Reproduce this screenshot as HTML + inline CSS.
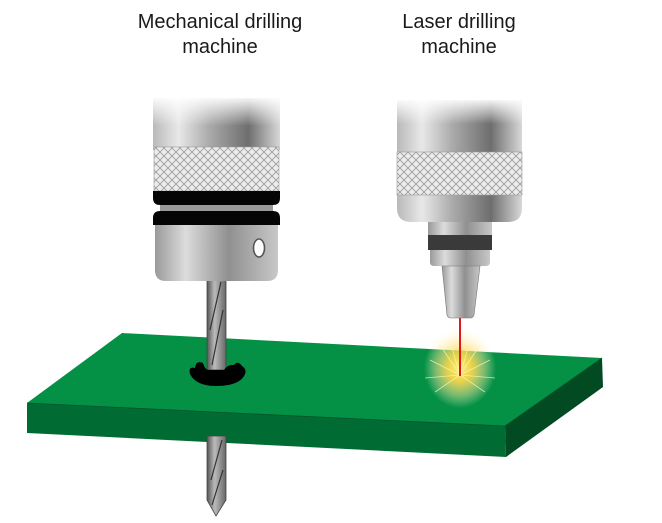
<!DOCTYPE html>
<html><head><meta charset="utf-8"><style>
html,body{margin:0;padding:0;background:#fff;}
svg{display:block;}
</style></head><body>
<svg width="662" height="523" viewBox="0 0 662 523" xmlns="http://www.w3.org/2000/svg">
<defs>
<linearGradient id="metal" x1="0" x2="1" y1="0" y2="0">
<stop offset="0" stop-color="#b9b9b9"/><stop offset="0.2" stop-color="#e8e8e8"/><stop offset="0.45" stop-color="#a9a9a9"/><stop offset="0.75" stop-color="#6e6e6e"/><stop offset="1" stop-color="#d8d8d8"/>
</linearGradient>
<linearGradient id="metal2" x1="0" x2="1" y1="0" y2="0">
<stop offset="0" stop-color="#9a9a9a"/><stop offset="0.25" stop-color="#dcdcdc"/><stop offset="0.6" stop-color="#909090"/><stop offset="1" stop-color="#c8c8c8"/>
</linearGradient>
<linearGradient id="topfade" x1="0" x2="0" y1="0" y2="1">
<stop offset="0" stop-color="#fff" stop-opacity="1"/><stop offset="1" stop-color="#fff" stop-opacity="0"/>
</linearGradient>
<linearGradient id="bit" x1="0" x2="1">
<stop offset="0" stop-color="#555"/><stop offset="0.4" stop-color="#bbb"/><stop offset="1" stop-color="#666"/>
</linearGradient>
<pattern id="knurl" width="8" height="8" patternUnits="userSpaceOnUse">
<rect width="8" height="8" fill="#ececec"/>
<path d="M0 0L8 8M8 0L0 8" stroke="#9a9a9a" stroke-width="0.8"/>
</pattern>
<radialGradient id="glow" cx="0.5" cy="0.5" r="0.5">
<stop offset="0" stop-color="#fff27a" stop-opacity="1"/><stop offset="0.35" stop-color="#ffd84a" stop-opacity="0.9"/><stop offset="0.7" stop-color="#ffe9a0" stop-opacity="0.45"/><stop offset="1" stop-color="#fff6d0" stop-opacity="0"/>
</radialGradient>
</defs>

<g font-family="Liberation Sans, Arial, sans-serif" font-size="20" fill="#1a1a1a" text-anchor="middle">
<text x="220" y="28">Mechanical drilling</text>
<text x="220" y="53">machine</text>
<text x="459" y="28">Laser drilling</text>
<text x="459" y="53">machine</text>
</g>

<!-- Board -->
<polygon points="122,333 602,358 505,426 27,403" fill="#049146"/>
<polygon points="27,403 505,426 506,457 27,433" fill="#016b34"/>
<polygon points="505,426 602,358 603,387 506,457" fill="#014a22"/>
<polyline points="27,403 505,426 602,358" fill="none" stroke="#02552a" stroke-width="0.8"/>

<!-- Glow -->
<ellipse cx="460" cy="368" rx="36" ry="40" fill="url(#glow)"/>
<g stroke="#fff6b0" stroke-width="0.8" opacity="0.8">
<path d="M460 375L430 360M460 375L490 360M460 375L440 345M460 375L480 345M460 375L425 378M460 375L495 378M460 375L435 392M460 375L485 392M460 375L452 348M460 375L468 348"/>
</g>
<line x1="460" y1="317" x2="460" y2="376" stroke="#e3141b" stroke-width="2"/>

<!-- Drill bit -->
<rect x="207" y="280" width="19" height="90" fill="url(#bit)" stroke="#444" stroke-width="0.8"/>
<path d="M221 282L210 330M223 310L212 365" stroke="#333" stroke-width="1.2"/>
<path d="M207 436L226 436L226 500L216 516L207 500Z" fill="url(#bit)" stroke="#444" stroke-width="0.8"/>
<path d="M222 440L211 480M223 470L212 505" stroke="#333" stroke-width="1.2"/>
<!-- splash -->
<path d="M190 374 Q188 366 195 368 Q196 360 203 363 Q205 370 209 370 L224 370 Q228 364 234 365 Q238 360 242 366 Q248 370 244 376 Q238 386 216 386 Q196 386 190 374Z" fill="#000"/>

<!-- Mechanical chuck -->
<rect x="153" y="98" width="127" height="52" fill="url(#metal)"/>
<rect x="153" y="96" width="127" height="30" fill="url(#topfade)"/>
<rect x="154" y="147" width="125" height="44" fill="url(#knurl)" stroke="#999" stroke-width="0.6"/>
<path d="M153 191H280V198Q280 205 273 205H160Q153 205 153 198Z" fill="#050505"/>
<rect x="160" y="205" width="113" height="6" fill="#9a9a9a"/>
<path d="M160 211H273Q280 211 280 218V225H153V218Q153 211 160 211Z" fill="#050505"/>
<path d="M155 225H278V270Q278 281 267 281H166Q155 281 155 270Z" fill="url(#metal2)"/>
<ellipse cx="259" cy="248" rx="5.5" ry="9" fill="#fff" stroke="#555" stroke-width="1.6"/>

<!-- Laser head -->
<rect x="397" y="100" width="125" height="35" fill="url(#metal)"/>
<rect x="397" y="98" width="125" height="26" fill="url(#topfade)"/>
<path d="M397 133H522V208Q522 222 508 222H411Q397 222 397 208Z" fill="url(#metal)"/>
<rect x="397" y="152" width="125" height="43" fill="url(#knurl)" stroke="#999" stroke-width="0.6"/>
<rect x="428" y="222" width="64" height="14" fill="url(#metal2)"/>
<rect x="428" y="235" width="64" height="15" fill="#3a3a3a"/>
<path d="M430 250H490V262Q490 266 486 266H434Q430 266 430 262Z" fill="url(#metal2)"/>
<path d="M442 266H480L474 315Q473 318 470 318H451Q448 318 447 315Z" fill="url(#metal2)" stroke="#777" stroke-width="0.6"/>
</svg>
</body></html>
